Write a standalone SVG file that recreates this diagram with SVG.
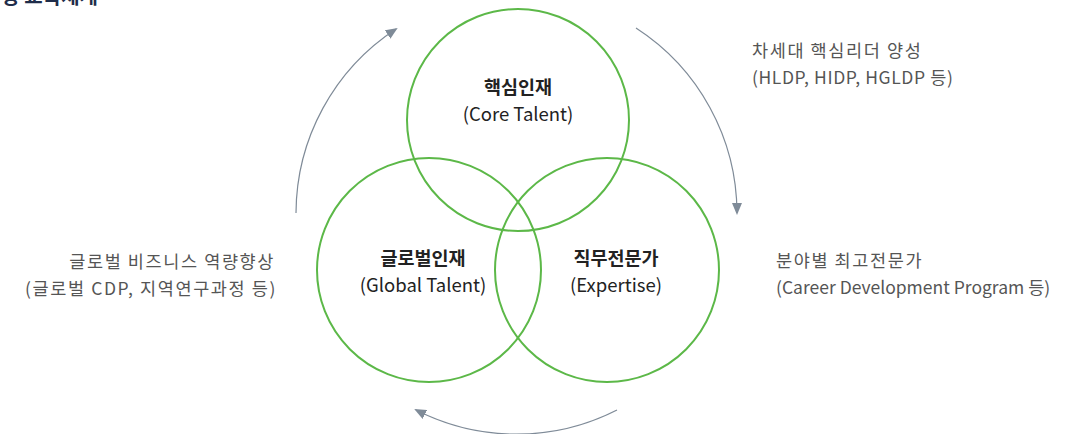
<svg xmlns="http://www.w3.org/2000/svg" width="1083" height="434" viewBox="0 0 1083 434">
<style>
.c{fill:none;stroke:#5cb848;stroke-width:2}
.a{fill:none;stroke:#7f8b98;stroke-width:1.2}
.t{font-family:"Noto Sans CJK KR","Noto Sans",sans-serif;font-size:18.5px;fill:#222;text-anchor:middle}
.b{font-weight:bold}
.s{font-family:"Noto Sans CJK KR","Noto Sans",sans-serif;font-size:17.5px;fill:#555}
.k{letter-spacing:1.6px}
.h{font-family:"Noto Sans CJK KR",sans-serif;font-size:20px;font-weight:bold;fill:#1f2d4a}
</style>
<defs>
<marker id="ah" viewBox="0 0 12 10" refX="10" refY="5" markerWidth="12" markerHeight="10" markerUnits="userSpaceOnUse" orient="auto">
<path d="M0,0 L12,5 L0,10 Z" fill="#7f8b98"/>
</marker>
</defs>
<text class="h" x="-17" y="4">역량 교육체계</text>
<g id="connectors">
<path class="a" d="M296,213 A221,221 0 0 1 396,29" marker-end="url(#ah)"/>
<path class="a" d="M636,28 A221,221 0 0 1 737,213" marker-end="url(#ah)"/>
<path class="a" d="M617,410 A221,221 0 0 1 416,410" marker-end="url(#ah)"/>
</g>
<g id="core">
<circle class="c" cx="518" cy="120" r="111"/>
<text class="t b" x="518" y="94">핵심인재</text>
<text class="t" x="518" y="121">(Core Talent)</text>
</g>
<g id="global">
<circle class="c" cx="429" cy="270" r="112"/>
<text class="t b" x="423" y="265">글로벌인재</text>
<text class="t" x="423" y="292">(Global Talent)</text>
</g>
<g id="expertise">
<circle class="c" cx="607" cy="270" r="112"/>
<text class="t b" x="616" y="265">직무전문가</text>
<text class="t" x="616" y="292">(Expertise)</text>
</g>
<g id="label-core">
<text class="s k" x="752" y="57">차세대 핵심리더 양성</text>
<text class="s" x="752" y="84" letter-spacing="0.6">(HLDP, HIDP, HGLDP 등)</text>
</g>
<g id="label-global">
<text class="s k" x="275" y="268" text-anchor="end">글로벌 비즈니스 역량향상</text>
<text class="s k" x="277" y="295" text-anchor="end">(글로벌 CDP, 지역연구과정 등)</text>
</g>
<g id="label-expertise">
<text class="s k" x="776" y="267">분야별 최고전문가</text>
<text class="s" x="776" y="294">(Career Development Program 등)</text>
</g>
</svg>
